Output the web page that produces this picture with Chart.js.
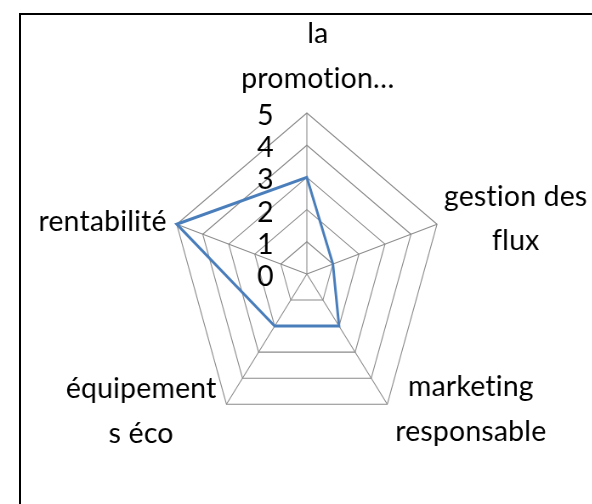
<!DOCTYPE html>
<html><head><meta charset="utf-8">
<script src="https://cdn.jsdelivr.net/npm/chart.js@4/dist/chart.umd.min.js"></script>
<style>
html,body{margin:0;padding:0;background:#fff;overflow:hidden;width:592px;height:504px;}
#frame{position:absolute;left:19px;top:13px;width:620px;height:540px;border-left:2px solid #000;border-top:2px solid #000;box-sizing:border-box;}
#wrap{position:absolute;left:0;top:0;width:697px;height:504px;transform:scaleX(0.85);transform-origin:0 0;}
</style></head><body>
<div id="frame"></div>
<div id="wrap"><canvas id="c" width="697" height="504"></canvas></div>
<script>
// ---- data ----
const categories = [['la', 'promotion…'], ['gestion des', 'flux'], ['marketing', 'responsable'], ['équipement', 's éco'], ['rentabilité']];
const seriesValues = [3, 1, 2, 2, 5];
const tickLabels = ['0', '1', '2', '3', '4', '5'];

// ---- layout / style ----
const SX = 0.85;               // horizontal squash of the plot (reference is stretched vertically)
const FONT_FAMILY = 'Lato, "Open Sans", sans-serif';
const LETTER_SPACING = '0.2px';
const LINE_GAP = 44.5;
const labelPlacement = [
  {align: 'center', dx: 11,  dy: -69.7},
  {align: 'left',   dx: 7,   dy: -18.3},
  {align: 'left',   dx: 8,   dy: -8},
  {align: 'right',  dx: -10, dy: -6},
  {align: 'right',  dx: -10, dy: 6.7}
];

// choose font size so that the label widths match the reference
const mctx = document.createElement('canvas').getContext('2d');
mctx.font = '30px ' + FONT_FAMILY;
if ('letterSpacing' in mctx) mctx.letterSpacing = LETTER_SPACING;
const FONT_SIZE = Math.round(30 * 128 / mctx.measureText('rentabilité').width * 10) / 10;

const textPlugin = {
  id: 'excelText',
  afterDraw(chart) {
    const scale = chart.scales.r;
    const ctx = chart.ctx;
    ctx.save();
    ctx.scale(1 / SX, 1);
    ctx.font = FONT_SIZE + 'px ' + FONT_FAMILY;
    if ('letterSpacing' in ctx) ctx.letterSpacing = LETTER_SPACING;
    ctx.fillStyle = '#000';
    ctx.textAlign = 'center';
    ctx.textBaseline = 'alphabetic';
    // category labels
    chart.data.labels.forEach((lines, i) => {
      const v = scale.getPointPosition(i, scale.drawingArea);
      const vx = v.x * SX, vy = v.y;
      const p = labelPlacement[i];
      const blockW = Math.max(...lines.map(t => ctx.measureText(t).width));
      let cx;
      if (p.align === 'left') cx = vx + p.dx + blockW / 2;
      else if (p.align === 'right') cx = vx + p.dx - blockW / 2;
      else cx = vx + p.dx;
      lines.forEach((t, k) => ctx.fillText(t, cx, vy + p.dy + k * LINE_GAP));
    });
    // tick labels
    ctx.textAlign = 'right';
    tickLabels.forEach((t) => {
      const y = scale.yCenter - scale.getDistanceFromCenterForValue(Number(t));
      ctx.fillText(t, scale.xCenter * SX - 33, y + 12);
    });
    ctx.restore();
  }
};

new Chart(document.getElementById('c'), {
  type: 'radar',
  data: {
    labels: categories,
    datasets: [{
      data: seriesValues,
      borderColor: '#4a7ebb',
      borderWidth: 3,
      backgroundColor: 'rgba(0,0,0,0)',
      fill: false,
      pointRadius: 0,
      pointHoverRadius: 0,
      tension: 0
    }]
  },
  options: {
    responsive: false,
    animation: false,
    devicePixelRatio: 1,
    layout: {padding: {left: 200, right: 175, top: 113, bottom: 69}},
    plugins: {legend: {display: false}, tooltip: {enabled: false}},
    scales: {
      r: {
        min: 0, max: 5,
        ticks: {display: false, stepSize: 1},
        pointLabels: {display: false},
        grid: {color: '#8a8a8a', lineWidth: 1.1},
        angleLines: {color: '#8a8a8a', lineWidth: 1.1}
      }
    }
  },
  plugins: [textPlugin]
});
</script>
</body></html>
